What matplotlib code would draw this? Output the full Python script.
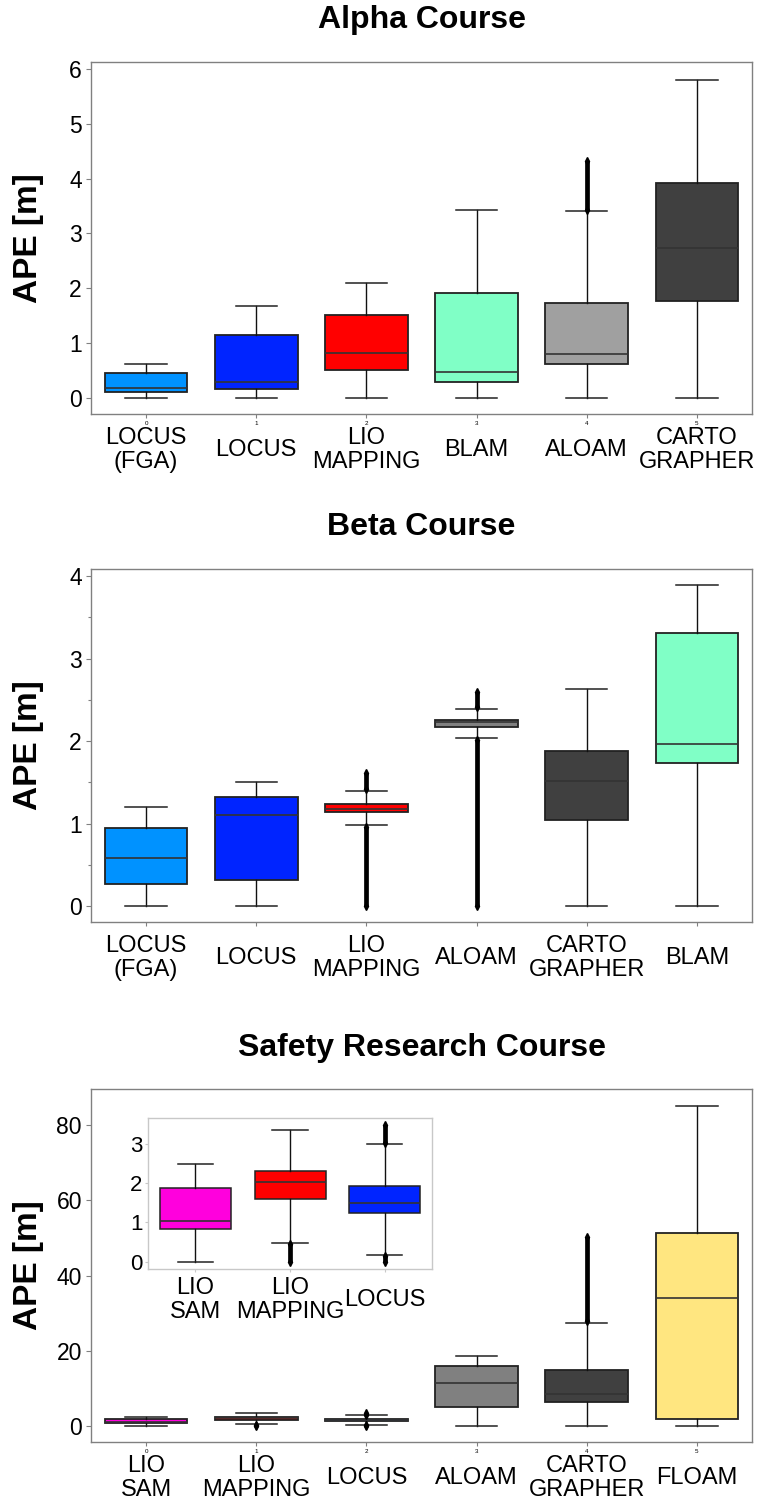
import matplotlib
matplotlib.use("Agg")
import matplotlib.pyplot as plt
from matplotlib.ticker import MultipleLocator

plt.rcParams['font.family'] = ['Liberation Sans', 'DejaVu Sans']

W, H = 758, 1504

# ---------------- data ----------------
alpha_labels = ['LOCUS\n(FGA)', 'LOCUS', 'LIO\nMAPPING', 'BLAM', 'ALOAM', 'CARTO\nGRAPHER']
alpha_whislo = [0.0, 0.0, 0.0, 0.0, 0.0, 0.0]
alpha_q1 = [0.11, 0.17, 0.52, 0.30, 0.62, 1.78]
alpha_med = [0.18, 0.29, 0.83, 0.48, 0.81, 2.73]
alpha_q3 = [0.46, 1.16, 1.52, 1.91, 1.73, 3.92]
alpha_whishi = [0.63, 1.68, 2.10, 3.42, 3.40, 5.80]
alpha_colors = ['#0092FF', '#0024FF', '#FF0000', '#80FFC6', '#A0A0A0', '#404040']
alpha_outliers = [(4, 3.42, 4.32)]  # (box index, lowest outlier, highest outlier)

beta_labels = ['LOCUS\n(FGA)', 'LOCUS', 'LIO\nMAPPING', 'ALOAM', 'CARTO\nGRAPHER', 'BLAM']
beta_whislo = [0.0, 0.0, 0.98, 2.04, 0.0, 0.0]
beta_q1 = [0.275, 0.32, 1.14, 2.17, 1.05, 1.74]
beta_med = [0.59, 1.10, 1.18, 2.23, 1.52, 1.96]
beta_q3 = [0.945, 1.32, 1.245, 2.26, 1.88, 3.31]
beta_whishi = [1.20, 1.51, 1.40, 2.39, 2.63, 3.89]
beta_colors = ['#0092FF', '#0024FF', '#FF0000', '#808080', '#404040', '#80FFC6']
beta_outliers = [(2, 1.42, 1.62), (2, 0.0, 0.96), (3, 2.41, 2.59), (3, 0.0, 2.02)]

safety_labels = ['LIO\nSAM', 'LIO\nMAPPING', 'LOCUS', 'ALOAM', 'CARTO\nGRAPHER', 'FLOAM']
safety_whislo = [0.0, 0.48, 0.17, 0.0, 0.0, 0.0]
safety_q1 = [0.83, 1.59, 1.23, 5.05, 6.4, 1.8]
safety_med = [1.03, 2.04, 1.49, 11.5, 8.4, 34.0]
safety_q3 = [1.88, 2.32, 1.92, 15.9, 14.9, 51.4]
safety_whishi = [2.49, 3.37, 3.00, 18.6, 27.5, 85.1]
safety_colors = ['#FF00DD', '#FF0000', '#0024FF', '#808080', '#404040', '#FFE680']
safety_outliers = [(1, 0.0, 0.3), (2, 3.05, 3.48), (2, 0.0, 0.15), (4, 27.8, 50.3)]

inset_labels = ['LIO\nSAM', 'LIO\nMAPPING', 'LOCUS']
inset_whislo = [0.0, 0.48, 0.17]
inset_q1 = [0.83, 1.59, 1.23]
inset_med = [1.03, 2.04, 1.49]
inset_q3 = [1.88, 2.32, 1.92]
inset_whishi = [2.49, 3.37, 3.00]
inset_colors = ['#FF00DD', '#FF0000', '#0024FF']
inset_outliers = [(1, 0.0, 0.46), (2, 3.02, 3.48), (2, 0.0, 0.15)]

# ---------------- helpers ----------------
fig = plt.figure(figsize=(W / 100, H / 100), dpi=100)


def add_axes_px(left, top, right, bottom):
    return fig.add_axes([left / W, 1 - bottom / H, (right - left) / W, (bottom - top) / H])


def draw_boxes(ax, whislo, q1, med, q3, whishi, colors, outliers, lw_box=1.3):
    stats = []
    for i in range(len(med)):
        stats.append(dict(med=med[i], q1=q1[i], q3=q3[i],
                          whislo=whislo[i], whishi=whishi[i], fliers=[]))
    n = len(med)
    bp = ax.bxp(stats, positions=list(range(n)), widths=0.75, capwidths=0.375,
                patch_artist=True, showfliers=False,
                boxprops=dict(edgecolor='#222222', linewidth=lw_box),
                medianprops=dict(color='#333333', linewidth=1.2),
                whiskerprops=dict(color='#111111', linewidth=1.0),
                capprops=dict(color='#222222', linewidth=1.1))
    for patch, c in zip(bp['boxes'], colors):
        patch.set_facecolor(c)
    for idx, lo, hi in outliers:
        ax.vlines(idx, lo, hi, color='black', linewidth=3.4, zorder=3)
        ax.plot([idx, idx], [lo, hi], linestyle='none', marker='d',
                markersize=4, color='black', zorder=3)
    ax.set_xlim(-0.5, n - 0.5)


def style_axes(ax, spine_color='#808080'):
    for s in ax.spines.values():
        s.set_color(spine_color)
        s.set_linewidth(1.0)
    ax.tick_params(axis='both', which='both', direction='out', color=spine_color,
                   width=0.8)
    ax.tick_params(axis='y', which='major', length=3.5, labelsize=16.5, pad=3)
    ax.tick_params(axis='y', which='minor', length=2.5)
    ax.tick_params(axis='x', which='major', length=3, labelsize=4.5, pad=2)


def cat_labels(ax, labels, offset_px, fontsize=17):
    h_px = ax.get_position().height * H
    for i, lab in enumerate(labels):
        ax.text(i, -offset_px / h_px, lab, transform=ax.get_xaxis_transform(),
                ha='center', va='center', fontsize=fontsize, linespacing=1.15)


def title_and_ylabel(ax, title, title_y_px):
    pos = ax.get_position()
    cx = pos.x0 + pos.width / 2
    fig.text(cx, 1 - title_y_px / H, title, ha='center', va='center',
             fontsize=23, fontweight='bold')
    cy = pos.y0 + pos.height / 2
    fig.text(29 / W, cy, 'APE [m]', rotation=90, ha='center', va='center',
             fontsize=24, fontweight='bold')


# ---------------- Alpha ----------------
ax1 = add_axes_px(91, 62, 752, 414)
draw_boxes(ax1, alpha_whislo, alpha_q1, alpha_med, alpha_q3, alpha_whishi,
           alpha_colors, alpha_outliers)
ax1.set_ylim(-0.285, 6.12)
ax1.set_yticks([0, 1, 2, 3, 4, 5, 6])
ax1.set_xticks(range(6))
ax1.set_xticklabels([str(i) for i in range(6)])
style_axes(ax1)
cat_labels(ax1, alpha_labels, 36)
title_and_ylabel(ax1, 'Alpha Course', 20)

# ---------------- Beta ----------------
ax2 = add_axes_px(91, 569, 752, 922)
draw_boxes(ax2, beta_whislo, beta_q1, beta_med, beta_q3, beta_whishi,
           beta_colors, beta_outliers)
ax2.set_ylim(-0.19, 4.085)
ax2.set_yticks([0, 1, 2, 3, 4])
ax2.yaxis.set_minor_locator(MultipleLocator(0.5))
ax2.set_xticks(range(6))
ax2.set_xticklabels([])
style_axes(ax2)
cat_labels(ax2, beta_labels, 36)
title_and_ylabel(ax2, 'Beta Course', 527)

# ---------------- Safety Research ----------------
ax3 = add_axes_px(91, 1089, 752, 1442)
draw_boxes(ax3, safety_whislo, safety_q1, safety_med, safety_q3, safety_whishi,
           safety_colors, safety_outliers)
ax3.set_ylim(-4.25, 89.6)
ax3.set_yticks([0, 20, 40, 60, 80])
ax3.set_xticks(range(6))
ax3.set_xticklabels([str(i) for i in range(6)])
style_axes(ax3)
cat_labels(ax3, safety_labels, 36)
title_and_ylabel(ax3, 'Safety Research Course', 1048)

# ---------------- Inset ----------------
ax4 = add_axes_px(148, 1118, 432, 1269)
ax4.set_facecolor('white')
draw_boxes(ax4, inset_whislo, inset_q1, inset_med, inset_q3, inset_whishi,
           inset_colors, inset_outliers, lw_box=1.1)
ax4.set_ylim(-0.19, 3.67)
ax4.set_yticks([0, 1, 2, 3])
ax4.set_xticks(range(3))
ax4.set_xticklabels([])
style_axes(ax4, spine_color='#c8c8c8')
ax4.tick_params(axis='y', labelsize=16, length=2, pad=2)
ax4.tick_params(axis='x', length=2)
cat_labels(ax4, inset_labels, 31)

fig.savefig('out.png', dpi=100)
